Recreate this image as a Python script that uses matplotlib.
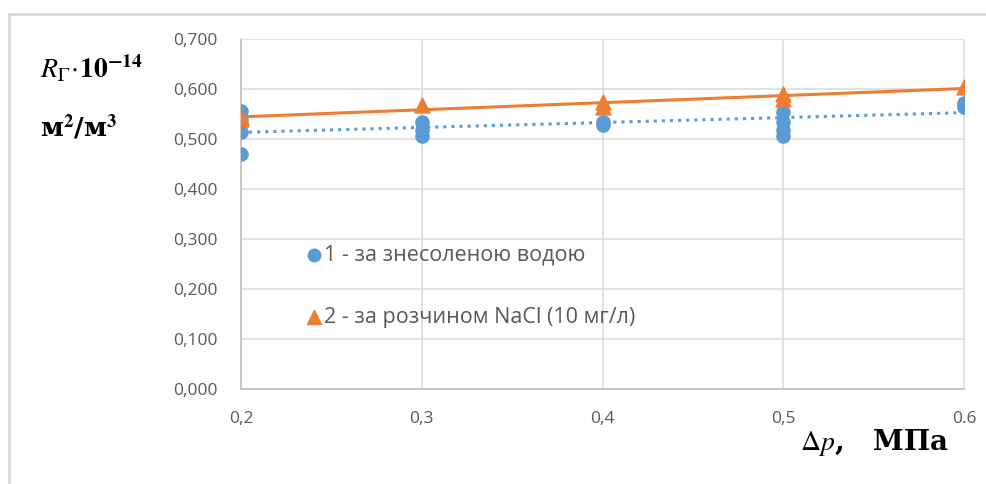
import matplotlib.pyplot as plt
import numpy as np
from matplotlib.lines import Line2D

# pressure, MPa
x_water = [0.2, 0.2, 0.2, 0.2, 0.3, 0.3, 0.3, 0.4, 0.4, 0.5, 0.5, 0.5, 0.5, 0.6, 0.6, 0.6]
y_water = [0.556, 0.538, 0.514, 0.470, 0.534, 0.518, 0.506, 0.535, 0.528,
           0.554, 0.534, 0.518, 0.506, 0.572, 0.570, 0.565]

x_nacl = [0.2, 0.2, 0.3, 0.4, 0.4, 0.5, 0.5, 0.6]
y_nacl = [0.545, 0.540, 0.568, 0.575, 0.565, 0.590, 0.580, 0.604]

x_ticks = [0.2, 0.3, 0.4, 0.5, 0.6]
x_labels = ['0,2', '0,3', '0,4', '0,5', '0.6']
y_ticks = np.arange(0, 0.71, 0.1)
y_labels = ['0,000', '0,100', '0,200', '0,300', '0,400', '0,500', '0,600', '0,700']

blue = '#5B9BD5'
orange = '#ED7D31'
grid = '#D9D9D9'
tick_col = '#595959'

plt.rcParams['font.family'] = ['Open Sans', 'DejaVu Sans']
plt.rcParams['mathtext.fontset'] = 'stix'

fig = plt.figure(figsize=(9.86, 4.84), dpi=100)
ax = fig.add_axes([241 / 986, 1 - 389 / 484, 723 / 986, 350 / 484])

ax.scatter(x_water, y_water, s=90, color=blue, zorder=3,
           label='1 - за знесоленою водою')
ax.scatter(x_nacl, y_nacl, s=115, marker='^', color=orange, zorder=4,
           label='2 - за розчином NaCl (10 мг/л)')

xx = np.array([0.2, 0.6])
k1, b1 = np.polyfit(x_water, y_water, 1)
k2, b2 = np.polyfit(x_nacl, y_nacl, 1)
ax.plot(xx, k1 * xx + b1, ':', color=blue, linewidth=2.2, zorder=5)
ax.plot(xx, k2 * xx + b2, '-', color=orange, linewidth=2.2, zorder=5)

ax.set_xlim(0.2, 0.6)
ax.set_ylim(0, 0.7)
ax.set_xticks(x_ticks)
ax.set_xticklabels(x_labels)
ax.set_yticks(y_ticks)
ax.set_yticklabels(y_labels)
ax.tick_params(length=0, colors=tick_col, labelsize=12.5)
ax.tick_params(axis='x', pad=16)
ax.tick_params(axis='y', pad=17)
ax.grid(True, color=grid, linewidth=1.1, zorder=0)
ax.set_axisbelow(True)
for side in ['top', 'right']:
    ax.spines[side].set_color('#E3E3E3')
for side in ['left', 'bottom']:
    ax.spines[side].set_color('#BFBFBF')
    ax.spines[side].set_linewidth(1.2)

ax.legend(loc='upper left', bbox_to_anchor=(295 / 986, 1 - 234 / 484),
          bbox_transform=fig.transFigure, frameon=False, fontsize=15.5,
          labelspacing=1.9, handletextpad=0.05, handlelength=0.8,
          labelcolor=tick_col, borderpad=0, markerscale=0.95)

fig.text(40 / 986, 1 - 70 / 484, r'$R_{\mathit{\Gamma}}\!\cdot\!\mathbf{10^{-14}}$',
         fontsize=20, va='center', ha='left')
fig.text(40 / 986, 1 - 127 / 484, r'м$^\mathbf{2}$/м$^\mathbf{3}$',
         family='DejaVu Serif', fontweight='bold', fontsize=19,
         va='center', ha='left')
fig.text(800 / 986, 1 - 442 / 484, r'$\Delta p$,   МПа',
         family='DejaVu Serif', fontweight='bold', fontsize=20,
         va='center', ha='left')

# outer chart frame
fig.add_artist(Line2D([9 / 986, 9 / 986], [0, 1 - 14 / 484],
                      transform=fig.transFigure, color=grid, linewidth=2))
fig.add_artist(Line2D([9 / 986, 1], [1 - 14 / 484, 1 - 14 / 484],
                      transform=fig.transFigure, color=grid, linewidth=2))

fig.savefig('out.png', dpi=100)
